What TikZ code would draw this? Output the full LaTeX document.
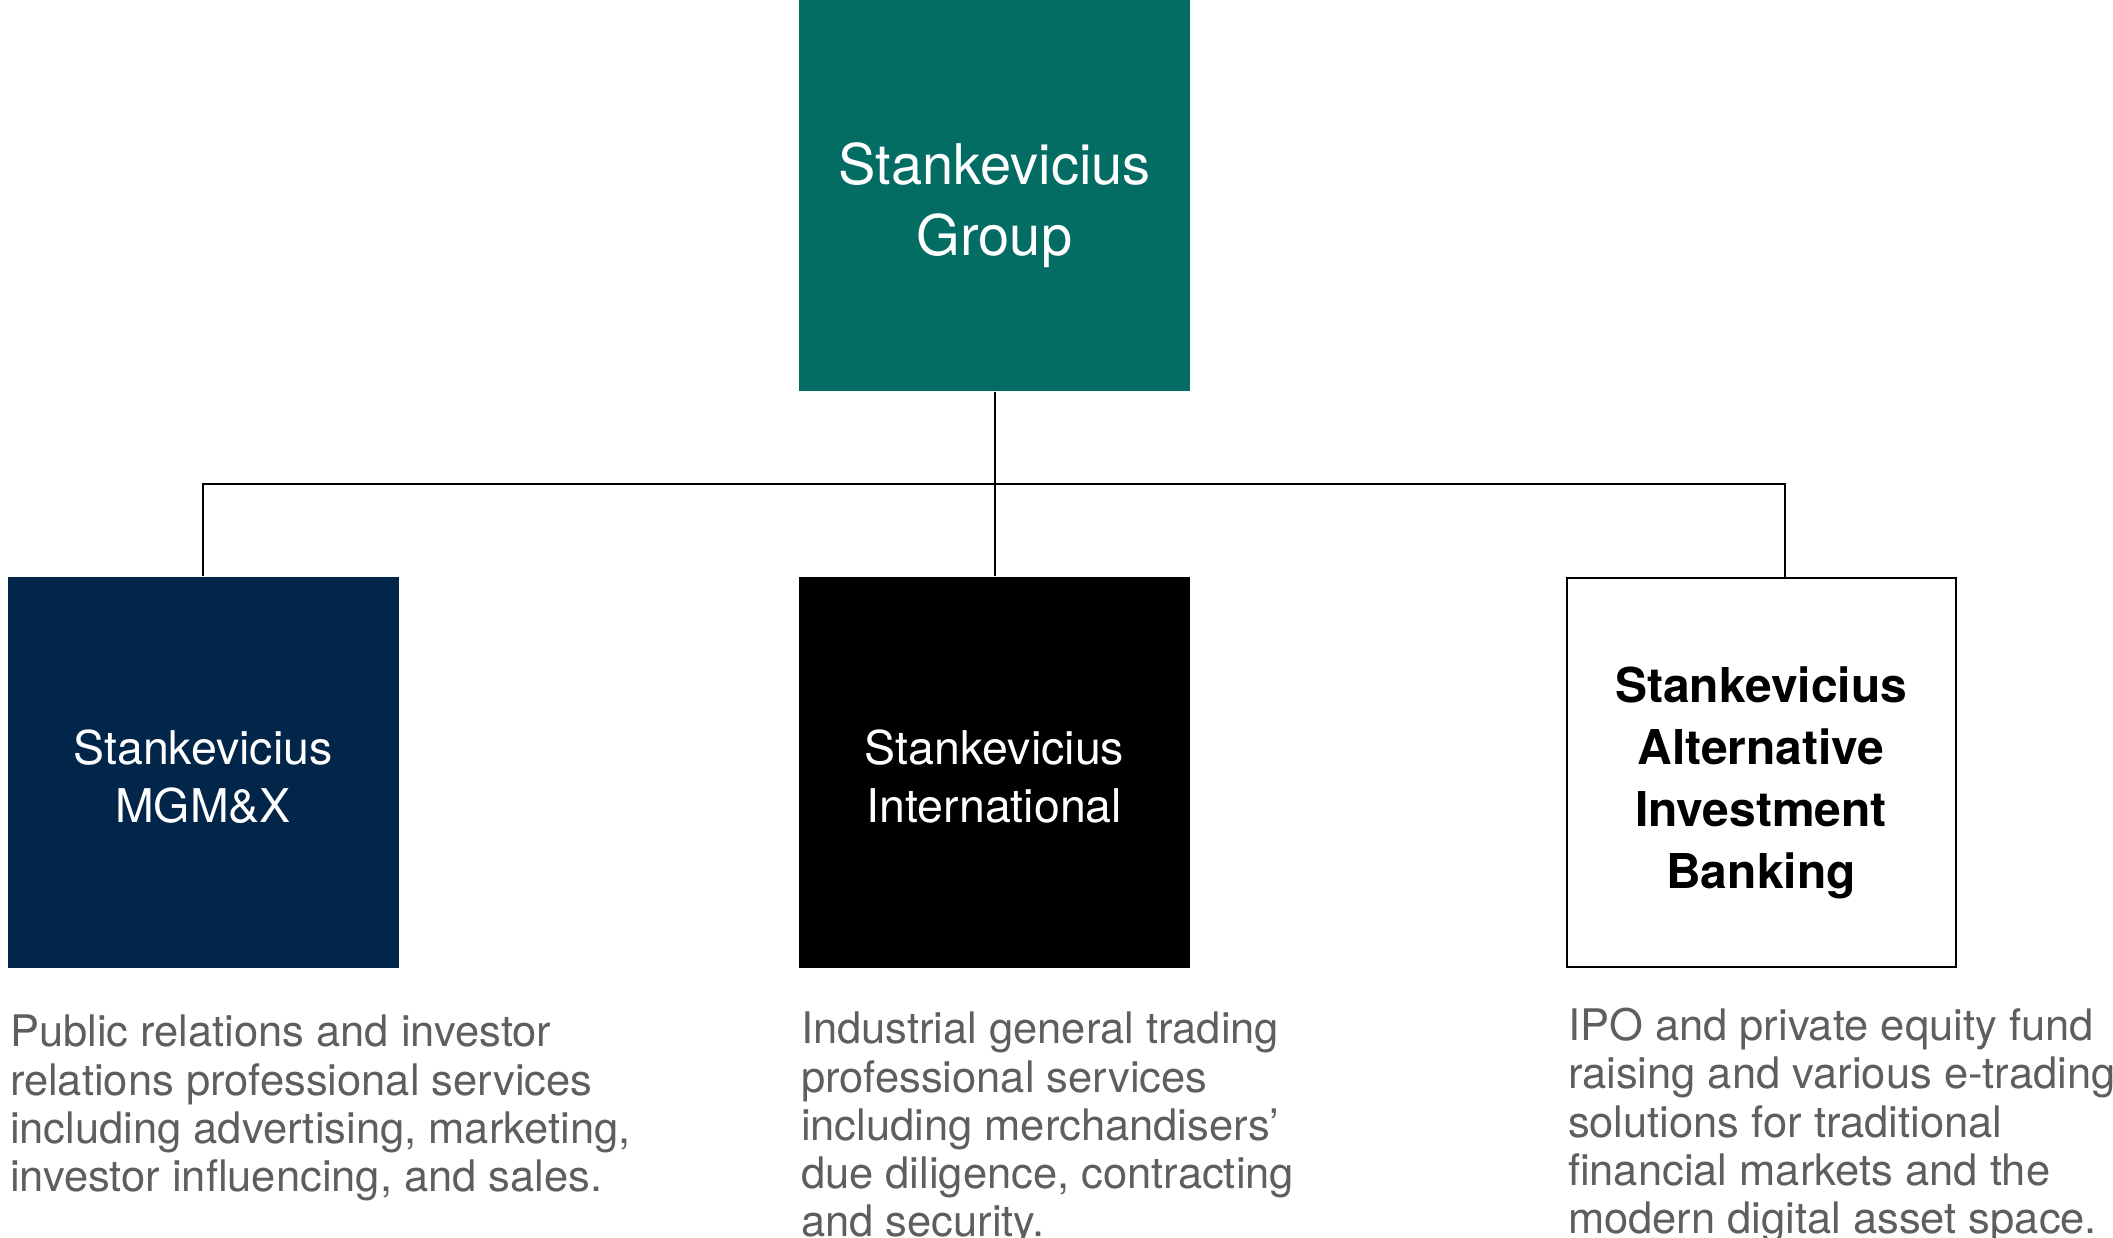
\documentclass[tikz,border=0pt]{standalone}
\usepackage{fontspec}
\setmainfont{TeX Gyre Heros}
\definecolor{groupteal}{HTML}{036C63}
\definecolor{mgmnavy}{HTML}{02254A}
\definecolor{descgray}{HTML}{5E5E5E}
\begin{document}
\begin{tikzpicture}[x=1pt,y=-1pt,line width=2pt,
	unitbox/.style={minimum width=391pt,minimum height=391pt,inner sep=0pt},
	boxtext/.style={inner sep=0pt,align=center,text=white,font=\fontsize{46.5}{58}\selectfont},
	desc/.style={anchor=north west,inner sep=0pt,align=left,text=descgray,font=\fontsize{43.5}{48.3}\selectfont}]
		\useasboundingbox (0,0) rectangle (2113,1238);
		\node[unitbox,fill=groupteal] (group) at (994.5,195.5) {};
		\node[unitbox,fill=mgmnavy] (mgm) at (203,772.5) {};
		\node[unitbox,fill=black] (intl) at (994.5,772.5) {};
		\node[unitbox,draw=black,minimum width=389pt,minimum height=389pt] (aib) at (1761,772.5) {};
		\node[boxtext,font=\fontsize{56}{71}\selectfont] (grouptitle) at ([yshift=-10pt]group.center) {Stankevicius\\Group};
		\node[boxtext] (mgmtitle) at ([yshift=-4pt]mgm.center) {Stankevicius\\MGM\&X};
		\node[boxtext] (intltitle) at ([yshift=-4pt]intl.center) {Stankevicius\\International};
		\node[boxtext,text=black,font=\bfseries\fontsize{48}{62}\selectfont] (aibtitle) at ([yshift=-10pt]aib.center) {Stankevicius\\Alternative\\Investment\\Banking};
		\coordinate (bus) at (0,484);
		\coordinate (aibtop) at (1785,577);
		\draw (group.south) -- (intl.north);
		\draw (mgm.north) -- (mgm.north |- bus) -- (aibtop |- bus) -- (aibtop);
		\node[desc] (mgmtext) at (9,1014) {Public relations and investor\\relations professional services\\including advertising, marketing,\\investor influencing, and sales.};
		\node[desc] (intltext) at (800,1011) {Industrial general trading\\professional services\\including merchandisers’\\due diligence, contracting\\and security.};
		\node[desc] (aibtext) at (1567,1007) {IPO and private equity fund\\raising and various e-trading\\solutions for traditional\\financial markets and the\\modern digital asset space.};
	\end{tikzpicture}
\end{document}
